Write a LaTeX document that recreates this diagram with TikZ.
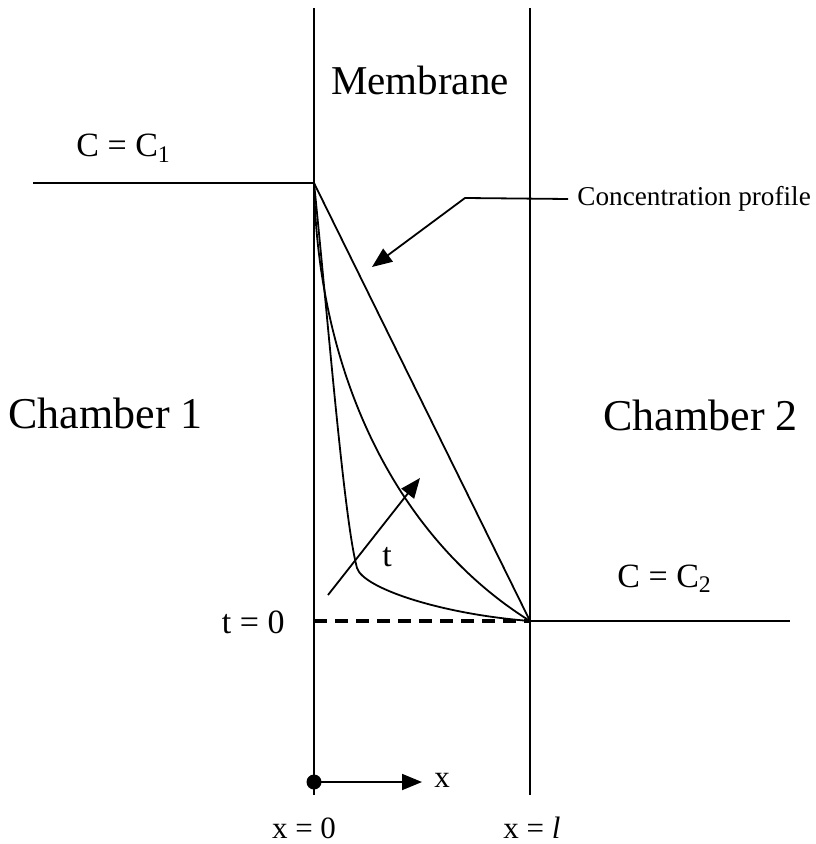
\documentclass[tikz,border=0pt]{standalone}
\usepackage{fontspec}
\setmainfont{Liberation Serif}
\usetikzlibrary{arrows.meta,positioning}

\tikzset{
 wall/.style={line width=0.9pt},
 profile/.style={line width=0.9pt},
 pointer/.style={line width=0.9pt,-{Triangle[length=10pt,width=8pt]}},
 lbl/.style={inner sep=0pt},
}

\begin{document}
\begin{tikzpicture}[x=0.5pt,y=-0.5pt]
\useasboundingbox (0,0) rectangle (815,844);
% membrane walls
\coordinate (w1top) at (314,8);
\coordinate (w1bot) at (314,795);
\coordinate (w2top) at (530,8);
\coordinate (w2bot) at (530,795);
\draw[wall] (w1top) -- (w1bot);
\draw[wall] (w2top) -- (w2bot);
% chamber levels
\coordinate (hi) at (314,183);
\coordinate (lo) at (530,621);
\coordinate (hiend) at (33,183);
\coordinate (loend) at (790,621);
\draw[profile] (hiend) -- (hi);
\draw[profile] (lo) -- (loend);
\draw[line width=1.6pt,dash pattern=on 6.5pt off 4pt] (hi|-lo) -- (lo);
% profiles
\draw[profile] (hi) -- (lo);
\draw[profile] (hi) .. controls (318,380) and (400,540) .. (lo);
\draw[profile] (hi) .. controls (328,320) and (344,520) .. (357,568)
 .. controls (363,588) and (440,614) .. (lo);
% labels
\node[lbl,anchor=base,font=\fontsize{20.5}{24}\selectfont] (memb) at (420,95) {Membrane};
\node[lbl,anchor=base west,font=\fontsize{22}{26}\selectfont] (ch1) at (8,428) {Chamber 1};
\node[lbl,anchor=base west,font=\fontsize{22}{26}\selectfont] (ch2) at (603,430) {Chamber 2};
\node[lbl,anchor=base west,font=\fontsize{17}{20}\selectfont] (c1) at (76,157) {C = C\textsubscript{1}};
\node[lbl,anchor=base west,font=\fontsize{17}{20}\selectfont] (c2) at (617,587) {C = C\textsubscript{2}};
\node[lbl,anchor=base east,font=\fontsize{17}{20}\selectfont] (t0) at (285,633) {t = 0};
% pointer to profile
\node[anchor=west,inner sep=0pt,inner xsep=4.5pt,font=\fontsize{13.6}{16}\selectfont] (cp) at (568,199) {Concentration profile};
\coordinate (bend) at (465,198);
\coordinate (tip) at (372,267);
\draw[pointer] (cp.west) -- (bend) -- (tip);
% time arrow
\coordinate (tstart) at (328,595);
\coordinate (tend) at (420,478);
\draw[pointer] (tstart) -- (tend);
\node[lbl,font=\fontsize{17}{20}\selectfont] (tlbl) at (387,557) {t};
% x axis
\node[circle,fill,inner sep=0pt,minimum size=7.5pt] (orig) at (314,782) {};
\coordinate (xend) at (422,782);
\draw[pointer] (orig.center) -- (xend);
\node[lbl,font=\fontsize{15.5}{18}\selectfont] (xlbl) at (442,780) {x};
\node[lbl,font=\fontsize{15.5}{18}\selectfont] (x0) at (304,828) {x = 0};
\node[lbl,font=\fontsize{15.5}{18}\selectfont] (xl) at (532,828) {x = \textit{l}};
\end{tikzpicture}
\end{document}
